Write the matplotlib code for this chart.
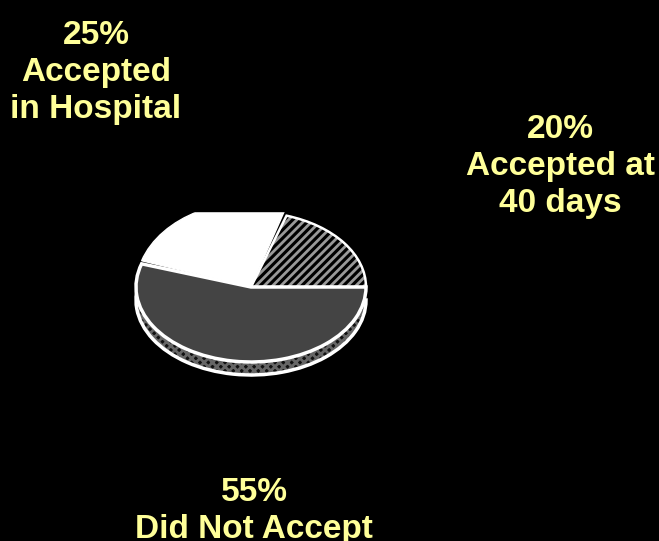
import matplotlib
matplotlib.use('Agg')
import matplotlib.pyplot as plt
from matplotlib.transforms import Affine2D

# data
shares = [20, 25, 55]
labels = ['Accepted at\n40 days', 'Accepted\nin Hospital', 'Did Not Accept']
label_pos = [(560, 212), (96, 118), (254, 538)]  # baseline of last line

plt.rcParams['font.family'] = ['Liberation Sans', 'DejaVu Sans']
plt.rcParams['hatch.linewidth'] = 2.0

fig = plt.figure(figsize=(6.59, 5.41), dpi=100, facecolor='black')
ax = fig.add_axes([0, 0, 1, 1], facecolor='black')

cx, cy = 251, 287   # pie centre in pixels
depth = 13
rx, ry = 115, 75


def draw_pie(values, c, start=0, ry=ry):
    # radius is in data units, so scale each wedge to an ellipse in pixels
    wedges, _ = ax.pie(values, center=c, startangle=start, normalize=False)
    for w in wedges:
        w.set_transform(Affine2D().translate(-c[0], -c[1]).scale(rx, -ry).translate(c[0], c[1]) + ax.transData)
    return wedges


fractions = [s / 100 for s in shares]
front_start = (fractions[0] + fractions[1]) * 360

# side of the pie, only the front slice shows below the top face
side = draw_pie(fractions[2:], (cx, cy + depth), front_start)[0]
side.set(facecolor='#111111', edgecolor='#666666', hatch='xxxx', linewidth=0, zorder=1)
rim = draw_pie(fractions[2:], (cx, cy + depth), front_start)[0]
rim.set(facecolor='none', edgecolor='white', linewidth=2.5, zorder=1.5)

# hatched slice
hatched = draw_pie(fractions[:1], (cx, cy))[0]
hatched.set(facecolor='black', edgecolor='#999999', hatch='////', linewidth=0, zorder=2)
outline = draw_pie(fractions[:1], (cx, cy))[0]
outline.set(facecolor='none', edgecolor='white', linewidth=1.8, zorder=2.5)

# white slice bulges higher than the others in the picture
white = draw_pie(fractions[1:2], (cx, cy), fractions[0] * 360, ry=85)[0]
white.set(facecolor='white', edgecolor='white', linewidth=1, zorder=3)

front = draw_pie(fractions[2:], (cx, cy), front_start)[0]
front.set(facecolor='#444444', edgecolor='white', linewidth=2.5, zorder=3.5)

ax.set_aspect('auto')
ax.set_xlim(0, 659)
ax.set_ylim(541, 0)
ax.axis('off')

# top of the pie is cut off flat in the picture
ax.axhspan(0, 211, color='black', zorder=4)

for s, lab, (x, y) in zip(shares, labels, label_pos):
    ax.text(x, y, f'{s}%\n{lab}', color='#FFFF99', fontsize=24, fontweight='bold',
            ha='center', va='baseline', linespacing=1.26, zorder=5)

fig.savefig('out.png', dpi=100, facecolor='black')
